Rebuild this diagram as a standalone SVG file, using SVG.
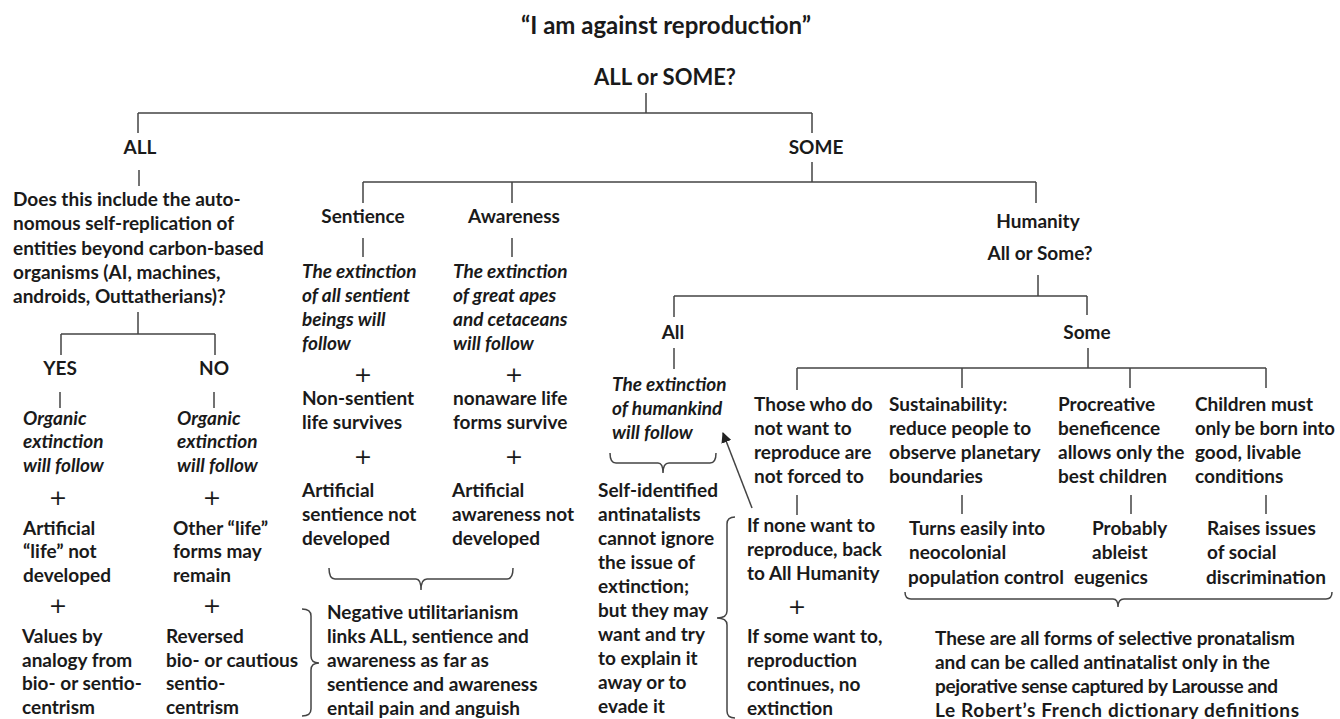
<svg xmlns="http://www.w3.org/2000/svg" width="1340" height="719" viewBox="0 0 1340 719">
<defs>
<style>
.t{font-family:Lato,"Liberation Sans",sans-serif;font-weight:700;font-size:19px;fill:#1a1a1a}
.i{font-style:italic}
.m{text-anchor:middle}
.big{font-size:22px}
.p{font-family:"DejaVu Sans",sans-serif;font-weight:400;font-size:22px;fill:#1a1a1a;text-anchor:middle;dominant-baseline:central}
.ln{stroke:#444;stroke-width:1.5;fill:none}
</style>
<marker id="ah" viewBox="0 0 10 10" refX="9" refY="5" markerWidth="7" markerHeight="7" orient="auto-start-reverse">
<path d="M0 0 L10 5 L0 10 z" fill="#222"/>
</marker>
</defs>
<rect width="1340" height="719" fill="#fff"/>

<g id="connectors" class="ln">
<path d="M646 93V113M138 113H812M138 113V133M812 113V133"/>
<path d="M139 170V186"/>
<path d="M812 162V182M363 182H1036M363 182V203M512 182V203M1036 182V203"/>
<path d="M138 312V334M61 334H215M61 334V355M215 334V355"/>
<path d="M60 392V408M214 392V408"/>
<path d="M363 238V257M512 238V257"/>
<path d="M1038 275V296M674 296H1087M674 296V317M1087 296V315"/>
<path d="M674 348V369"/>
<path d="M1088 348V368M797 368H1266M797 368V390M962 368V388M1130 368V388M1266 368V388"/>
<path d="M797 495V515M962 495V514M1131 495V514M1266 495V514"/>
<path d="M329 568Q329 579 335 579L416 579Q421 579 421 590Q421 579 427 579L507 579Q513 579 513 568"/>
<path d="M610 453Q610 463 616 463L658 463Q663 463 663 473Q663 463 669 463L710 463Q716 463 716 453"/>
<path d="M905 592Q905 599 911 599L1113 599Q1118 599 1118 607Q1118 599 1124 599L1326 599Q1332 599 1332 592"/>
<path d="M302 609Q311 609 311 616L311 656Q311 663 319 663Q311 663 311 670L311 709Q311 716 302 716"/>
<path d="M735 517Q727 517 727 524L727 611Q727 618 717 618Q727 618 727 625L727 711Q727 718 735 718"/>
<path d="M752 508L723 433" marker-end="url(#ah)"/>
</g>

<g id="title"><text class="t m" x="666" y="34" style="font-size:24px">“I am against reproduction”</text></g>
<g id="root"><text class="t m big" x="665" y="85">ALL or SOME?</text></g>

<g id="all"><text class="t m" x="140" y="154">ALL</text></g>
<g id="question">
<text class="t" x="13" y="206">Does this include the auto-</text>
<text class="t" x="13" y="230">nomous self-replication of</text>
<text class="t" x="13" y="255">entities beyond carbon-based</text>
<text class="t" x="13" y="279">organisms (AI, machines,</text>
<text class="t" x="13" y="303">androids, Outtatherians)?</text>
</g>
<g id="yes">
<text class="t m" x="60" y="375">YES</text>
<text class="t i" x="23" y="425">Organic</text>
<text class="t i" x="23" y="448">extinction</text>
<text class="t i" x="23" y="472">will follow</text>
<text class="p" x="58" y="497">+</text>
<text class="t" x="23" y="535">Artificial</text>
<text class="t" x="23" y="558">“life” not</text>
<text class="t" x="23" y="582">developed</text>
<text class="p" x="58" y="605">+</text>
<text class="t" x="22" y="643">Values by</text>
<text class="t" x="22" y="667">analogy from</text>
<text class="t" x="22" y="690">bio- or sentio-</text>
<text class="t" x="22" y="714">centrism</text>
</g>
<g id="no">
<text class="t m" x="214" y="375">NO</text>
<text class="t i" x="177" y="425">Organic</text>
<text class="t i" x="177" y="448">extinction</text>
<text class="t i" x="177" y="472">will follow</text>
<text class="p" x="212" y="497">+</text>
<text class="t" x="173" y="535">Other “life”</text>
<text class="t" x="173" y="558">forms may</text>
<text class="t" x="173" y="582">remain</text>
<text class="p" x="212" y="605">+</text>
<text class="t" x="166" y="643">Reversed</text>
<text class="t" x="166" y="667">bio- or cautious</text>
<text class="t" x="166" y="690">sentio-</text>
<text class="t" x="166" y="714">centrism</text>
</g>

<g id="some"><text class="t m" x="816" y="154">SOME</text></g>
<g id="sentience">
<text class="t m" x="363" y="223">Sentience</text>
<text class="t i" x="302" y="278">The extinction</text>
<text class="t i" x="302" y="302">of all sentient</text>
<text class="t i" x="302" y="326">beings will</text>
<text class="t i" x="302" y="350">follow</text>
<text class="p" x="363" y="374">+</text>
<text class="t" x="302" y="405">Non-sentient</text>
<text class="t" x="302" y="429">life survives</text>
<text class="p" x="363" y="456">+</text>
<text class="t" x="302" y="497">Artificial</text>
<text class="t" x="302" y="521">sentience not</text>
<text class="t" x="302" y="545">developed</text>
</g>
<g id="awareness">
<text class="t m" x="514" y="223">Awareness</text>
<text class="t i" x="453" y="278">The extinction</text>
<text class="t i" x="453" y="302">of great apes</text>
<text class="t i" x="453" y="326">and cetaceans</text>
<text class="t i" x="453" y="350">will follow</text>
<text class="p" x="514" y="374">+</text>
<text class="t" x="453" y="405">nonaware life</text>
<text class="t" x="453" y="429">forms survive</text>
<text class="p" x="514" y="456">+</text>
<text class="t" x="452" y="497">Artificial</text>
<text class="t" x="452" y="521">awareness not</text>
<text class="t" x="452" y="545">developed</text>
</g>
<g id="negutil">
<text class="t" x="327" y="619">Negative utilitarianism</text>
<text class="t" x="327" y="643">links ALL, sentience and</text>
<text class="t" x="327" y="667">awareness as far as</text>
<text class="t" x="327" y="691">sentience and awareness</text>
<text class="t" x="327" y="715">entail pain and anguish</text>
</g>

<g id="humanity">
<text class="t m" x="1038" y="228">Humanity</text>
<text class="t m" x="1040" y="260">All or Some?</text>
</g>
<g id="hall">
<text class="t m" x="673" y="339">All</text>
<text class="t i" x="612" y="391">The extinction</text>
<text class="t i" x="612" y="415">of humankind</text>
<text class="t i" x="612" y="439">will follow</text>
</g>
<g id="selfid">
<text class="t" x="598" y="497">Self-identified</text>
<text class="t" x="598" y="521">antinatalists</text>
<text class="t" x="598" y="545">cannot ignore</text>
<text class="t" x="598" y="569">the issue of</text>
<text class="t" x="598" y="593">extinction;</text>
<text class="t" x="598" y="617">but they may</text>
<text class="t" x="598" y="641">want and try</text>
<text class="t" x="598" y="665">to explain it</text>
<text class="t" x="598" y="689">away or to</text>
<text class="t" x="598" y="713">evade it</text>
</g>
<g id="hsome"><text class="t m" x="1087" y="339">Some</text></g>
<g id="notforced">
<text class="t" x="754" y="411">Those who do</text>
<text class="t" x="754" y="435">not want to</text>
<text class="t" x="754" y="459">reproduce are</text>
<text class="t" x="754" y="483">not forced to</text>
</g>
<g id="ifnone">
<text class="t" x="747" y="532">If none want to</text>
<text class="t" x="747" y="556">reproduce, back</text>
<text class="t" x="747" y="580">to All Humanity</text>
<text class="p" x="797" y="606">+</text>
<text class="t" x="747" y="643">If some want to,</text>
<text class="t" x="747" y="667">reproduction</text>
<text class="t" x="747" y="691">continues, no</text>
<text class="t" x="747" y="715">extinction</text>
</g>
<g id="sustain">
<text class="t" x="889" y="411">Sustainability:</text>
<text class="t" x="889" y="435">reduce people to</text>
<text class="t" x="889" y="459">observe planetary</text>
<text class="t" x="889" y="483">boundaries</text>
</g>
<g id="procreative">
<text class="t" x="1058" y="411">Procreative</text>
<text class="t" x="1058" y="435">beneficence</text>
<text class="t" x="1058" y="459">allows only the</text>
<text class="t" x="1058" y="483">best children</text>
</g>
<g id="children">
<text class="t" x="1195" y="411">Children must</text>
<text class="t" x="1195" y="435" textLength="140" lengthAdjust="spacingAndGlyphs">only be born into</text>
<text class="t" x="1195" y="459">good, livable</text>
<text class="t" x="1195" y="483">conditions</text>
</g>
<g id="neocolonial">
<text class="t" x="909" y="535">Turns easily into</text>
<text class="t" x="909" y="559">neocolonial</text>
<text class="t" x="908" y="584">population control</text>
</g>
<g id="ableist">
<text class="t" x="1092" y="535">Probably</text>
<text class="t" x="1092" y="559">ableist</text>
<text class="t" x="1074" y="584">eugenics</text>
</g>
<g id="social">
<text class="t" x="1207" y="535">Raises issues</text>
<text class="t" x="1207" y="559">of social</text>
<text class="t" x="1206" y="584">discrimination</text>
</g>
<g id="pronatalism">
<text class="t" x="935" y="645" textLength="360">These are all forms of selective pronatalism</text>
<text class="t" x="935" y="669" textLength="335">and can be called antinatalist only in the</text>
<text class="t" x="935" y="693" textLength="343">pejorative sense captured by Larousse and</text>
<text class="t" x="935" y="717" textLength="364">Le Robert’s French dictionary definitions</text>
</g>
</svg>
